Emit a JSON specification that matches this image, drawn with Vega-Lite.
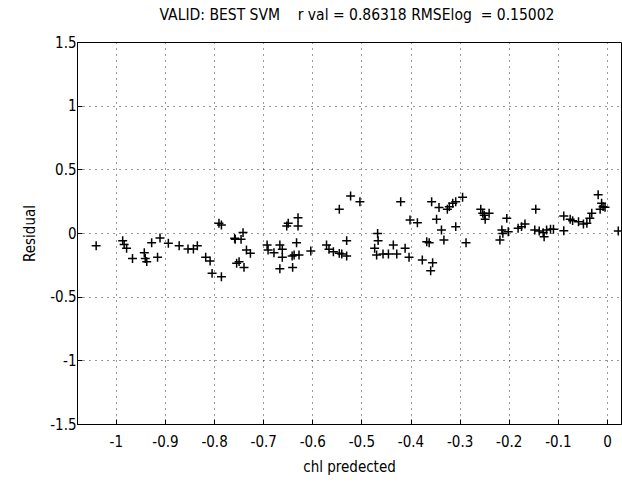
{
  "$schema": "https://vega.github.io/schema/vega-lite/v6.json",
  "width": 544,
  "height": 382,
  "autosize": {"type": "none"},
  "padding": {"left": 77, "top": 42, "right": 1, "bottom": 66},
  "background": "white",
  "title": {"text": "VALID: BEST SVM \u00a0\u00a0 r val = 0.86318 RMSElog \u00a0= 0.15002", "font": "DejaVu Sans Condensed, Liberation Sans, sans-serif", "fontSize": 15.5, "fontWeight": "normal", "color": "black", "offset": 12, "anchor": "middle", "dx": 8},
  "config": {
    "view": {"stroke": "black", "strokeWidth": 1},
    "axis": {"labelFont": "DejaVu Sans Condensed, Liberation Sans, sans-serif", "titleFont": "DejaVu Sans Condensed, Liberation Sans, sans-serif", "labelFontSize": 15, "titleFontSize": 15, "titleFontWeight": "normal", "labelColor": "black", "titleColor": "black", "domainColor": "black", "tickColor": "black", "gridColor": "black", "gridDash": [1, 5], "gridOpacity": 0.8, "tickSize": -5, "labelPadding": 11}
  },
  "data": {"values": [
    {"x": -1.04, "y": -0.10}, {"x": -0.986, "y": -0.06}, {"x": -0.983, "y": -0.09}, {"x": -0.978, "y": -0.12},
    {"x": -0.966, "y": -0.20}, {"x": -0.942, "y": -0.155}, {"x": -0.94, "y": -0.20}, {"x": -0.937, "y": -0.225},
    {"x": -0.927, "y": -0.076}, {"x": -0.915, "y": -0.19}, {"x": -0.91, "y": -0.04}, {"x": -0.893, "y": -0.08},
    {"x": -0.871, "y": -0.10}, {"x": -0.853, "y": -0.126}, {"x": -0.842, "y": -0.126}, {"x": -0.834, "y": -0.10},
    {"x": -0.817, "y": -0.19}, {"x": -0.808, "y": -0.22}, {"x": -0.804, "y": -0.317}, {"x": -0.785, "y": -0.343},
    {"x": -0.79, "y": 0.076}, {"x": -0.785, "y": 0.063}, {"x": -0.758, "y": -0.042}, {"x": -0.757, "y": -0.05},
    {"x": -0.741, "y": 0.003}, {"x": -0.745, "y": -0.05}, {"x": -0.734, "y": -0.134}, {"x": -0.726, "y": -0.16},
    {"x": -0.754, "y": -0.238}, {"x": -0.749, "y": -0.225}, {"x": -0.739, "y": -0.27},
    {"x": -0.692, "y": -0.094}, {"x": -0.69, "y": -0.134}, {"x": -0.678, "y": -0.155}, {"x": -0.666, "y": -0.094},
    {"x": -0.661, "y": -0.128}, {"x": -0.661, "y": -0.19}, {"x": -0.666, "y": -0.28}, {"x": -0.652, "y": 0.055},
    {"x": -0.649, "y": 0.076}, {"x": -0.629, "y": 0.12}, {"x": -0.629, "y": 0.055}, {"x": -0.641, "y": -0.18},
    {"x": -0.637, "y": -0.173}, {"x": -0.632, "y": -0.076}, {"x": -0.627, "y": -0.173}, {"x": -0.64, "y": -0.27},
    {"x": -0.603, "y": -0.141}, {"x": -0.571, "y": -0.094}, {"x": -0.566, "y": -0.128}, {"x": -0.557, "y": -0.147},
    {"x": -0.545, "y": -0.16}, {"x": -0.54, "y": -0.165}, {"x": -0.53, "y": -0.18}, {"x": -0.53, "y": -0.06},
    {"x": -0.545, "y": 0.186}, {"x": -0.522, "y": 0.29}, {"x": -0.503, "y": 0.246}, {"x": -0.467, "y": -0.003},
    {"x": -0.466, "y": -0.06}, {"x": -0.473, "y": -0.12}, {"x": -0.469, "y": -0.173}, {"x": -0.456, "y": -0.165},
    {"x": -0.445, "y": -0.165}, {"x": -0.435, "y": -0.094}, {"x": -0.428, "y": -0.165}, {"x": -0.411, "y": -0.12},
    {"x": -0.403, "y": -0.19}, {"x": -0.42, "y": 0.246}, {"x": -0.401, "y": 0.102}, {"x": -0.386, "y": 0.081},
    {"x": -0.376, "y": -0.212}, {"x": -0.367, "y": -0.068},
    {"x": -0.357, "y": 0.246}, {"x": -0.355, "y": -0.233}, {"x": -0.359, "y": -0.296}, {"x": -0.362, "y": -0.076},
    {"x": -0.347, "y": 0.108}, {"x": -0.342, "y": 0.20}, {"x": -0.337, "y": 0.024}, {"x": -0.332, "y": -0.055},
    {"x": -0.325, "y": 0.186}, {"x": -0.321, "y": 0.207}, {"x": -0.314, "y": 0.233}, {"x": -0.308, "y": 0.246},
    {"x": -0.308, "y": 0.05}, {"x": -0.294, "y": 0.28}, {"x": -0.287, "y": -0.076}, {"x": -0.257, "y": 0.186},
    {"x": -0.253, "y": 0.155}, {"x": -0.248, "y": 0.108}, {"x": -0.24, "y": 0.155}, {"x": -0.25, "y": 0.14},
    {"x": -0.214, "y": 0.024}, {"x": -0.218, "y": -0.055}, {"x": -0.212, "y": -0.003}, {"x": -0.204, "y": 0.115},
    {"x": -0.201, "y": 0.01}, {"x": -0.181, "y": 0.037}, {"x": -0.174, "y": 0.05}, {"x": -0.167, "y": 0.071},
    {"x": -0.145, "y": 0.186}, {"x": -0.147, "y": 0.024}, {"x": -0.138, "y": 0.016}, {"x": -0.13, "y": 0.003},
    {"x": -0.128, "y": -0.029}, {"x": -0.123, "y": 0.024}, {"x": -0.115, "y": 0.029}, {"x": -0.109, "y": 0.029},
    {"x": -0.088, "y": 0.134}, {"x": -0.088, "y": 0.018}, {"x": -0.075, "y": 0.108}, {"x": -0.07, "y": 0.097},
    {"x": -0.058, "y": 0.089}, {"x": -0.048, "y": 0.071}, {"x": -0.041, "y": 0.076}, {"x": -0.035, "y": 0.115},
    {"x": -0.031, "y": 0.155}, {"x": -0.018, "y": 0.30}, {"x": -0.011, "y": 0.233}, {"x": -0.008, "y": 0.207},
    {"x": -0.004, "y": 0.202}, {"x": -0.014, "y": 0.186}, {"x": 0.023, "y": 0.016}
  ]},
  "mark": {"type": "point", "shape": "M-1,0H1M0,-1V1", "filled": false, "stroke": "black", "strokeOpacity": 1, "opacity": 1, "strokeWidth": 1.5, "size": 80, "clip": true},
  "encoding": {
    "x": {"field": "x", "type": "quantitative", "scale": {"domain": [-1.079, 0.0285], "nice": false, "zero": false},
      "axis": {"values": [-1, -0.9, -0.8, -0.7, -0.6, -0.5, -0.4, -0.3, -0.2, -0.1, 0], "labelExpr": "toString(datum.value)", "title": "chl predected", "titlePadding": 10, "labelPadding": 15, "grid": true}},
    "y": {"field": "y", "type": "quantitative", "scale": {"domain": [-1.5, 1.5], "nice": false},
      "axis": {"values": [-1.5, -1, -0.5, 0, 0.5, 1, 1.5], "labelExpr": "toString(datum.value)", "title": "Residual", "titlePadding": 12, "grid": true, "labelPadding": 6}}
  }
}
